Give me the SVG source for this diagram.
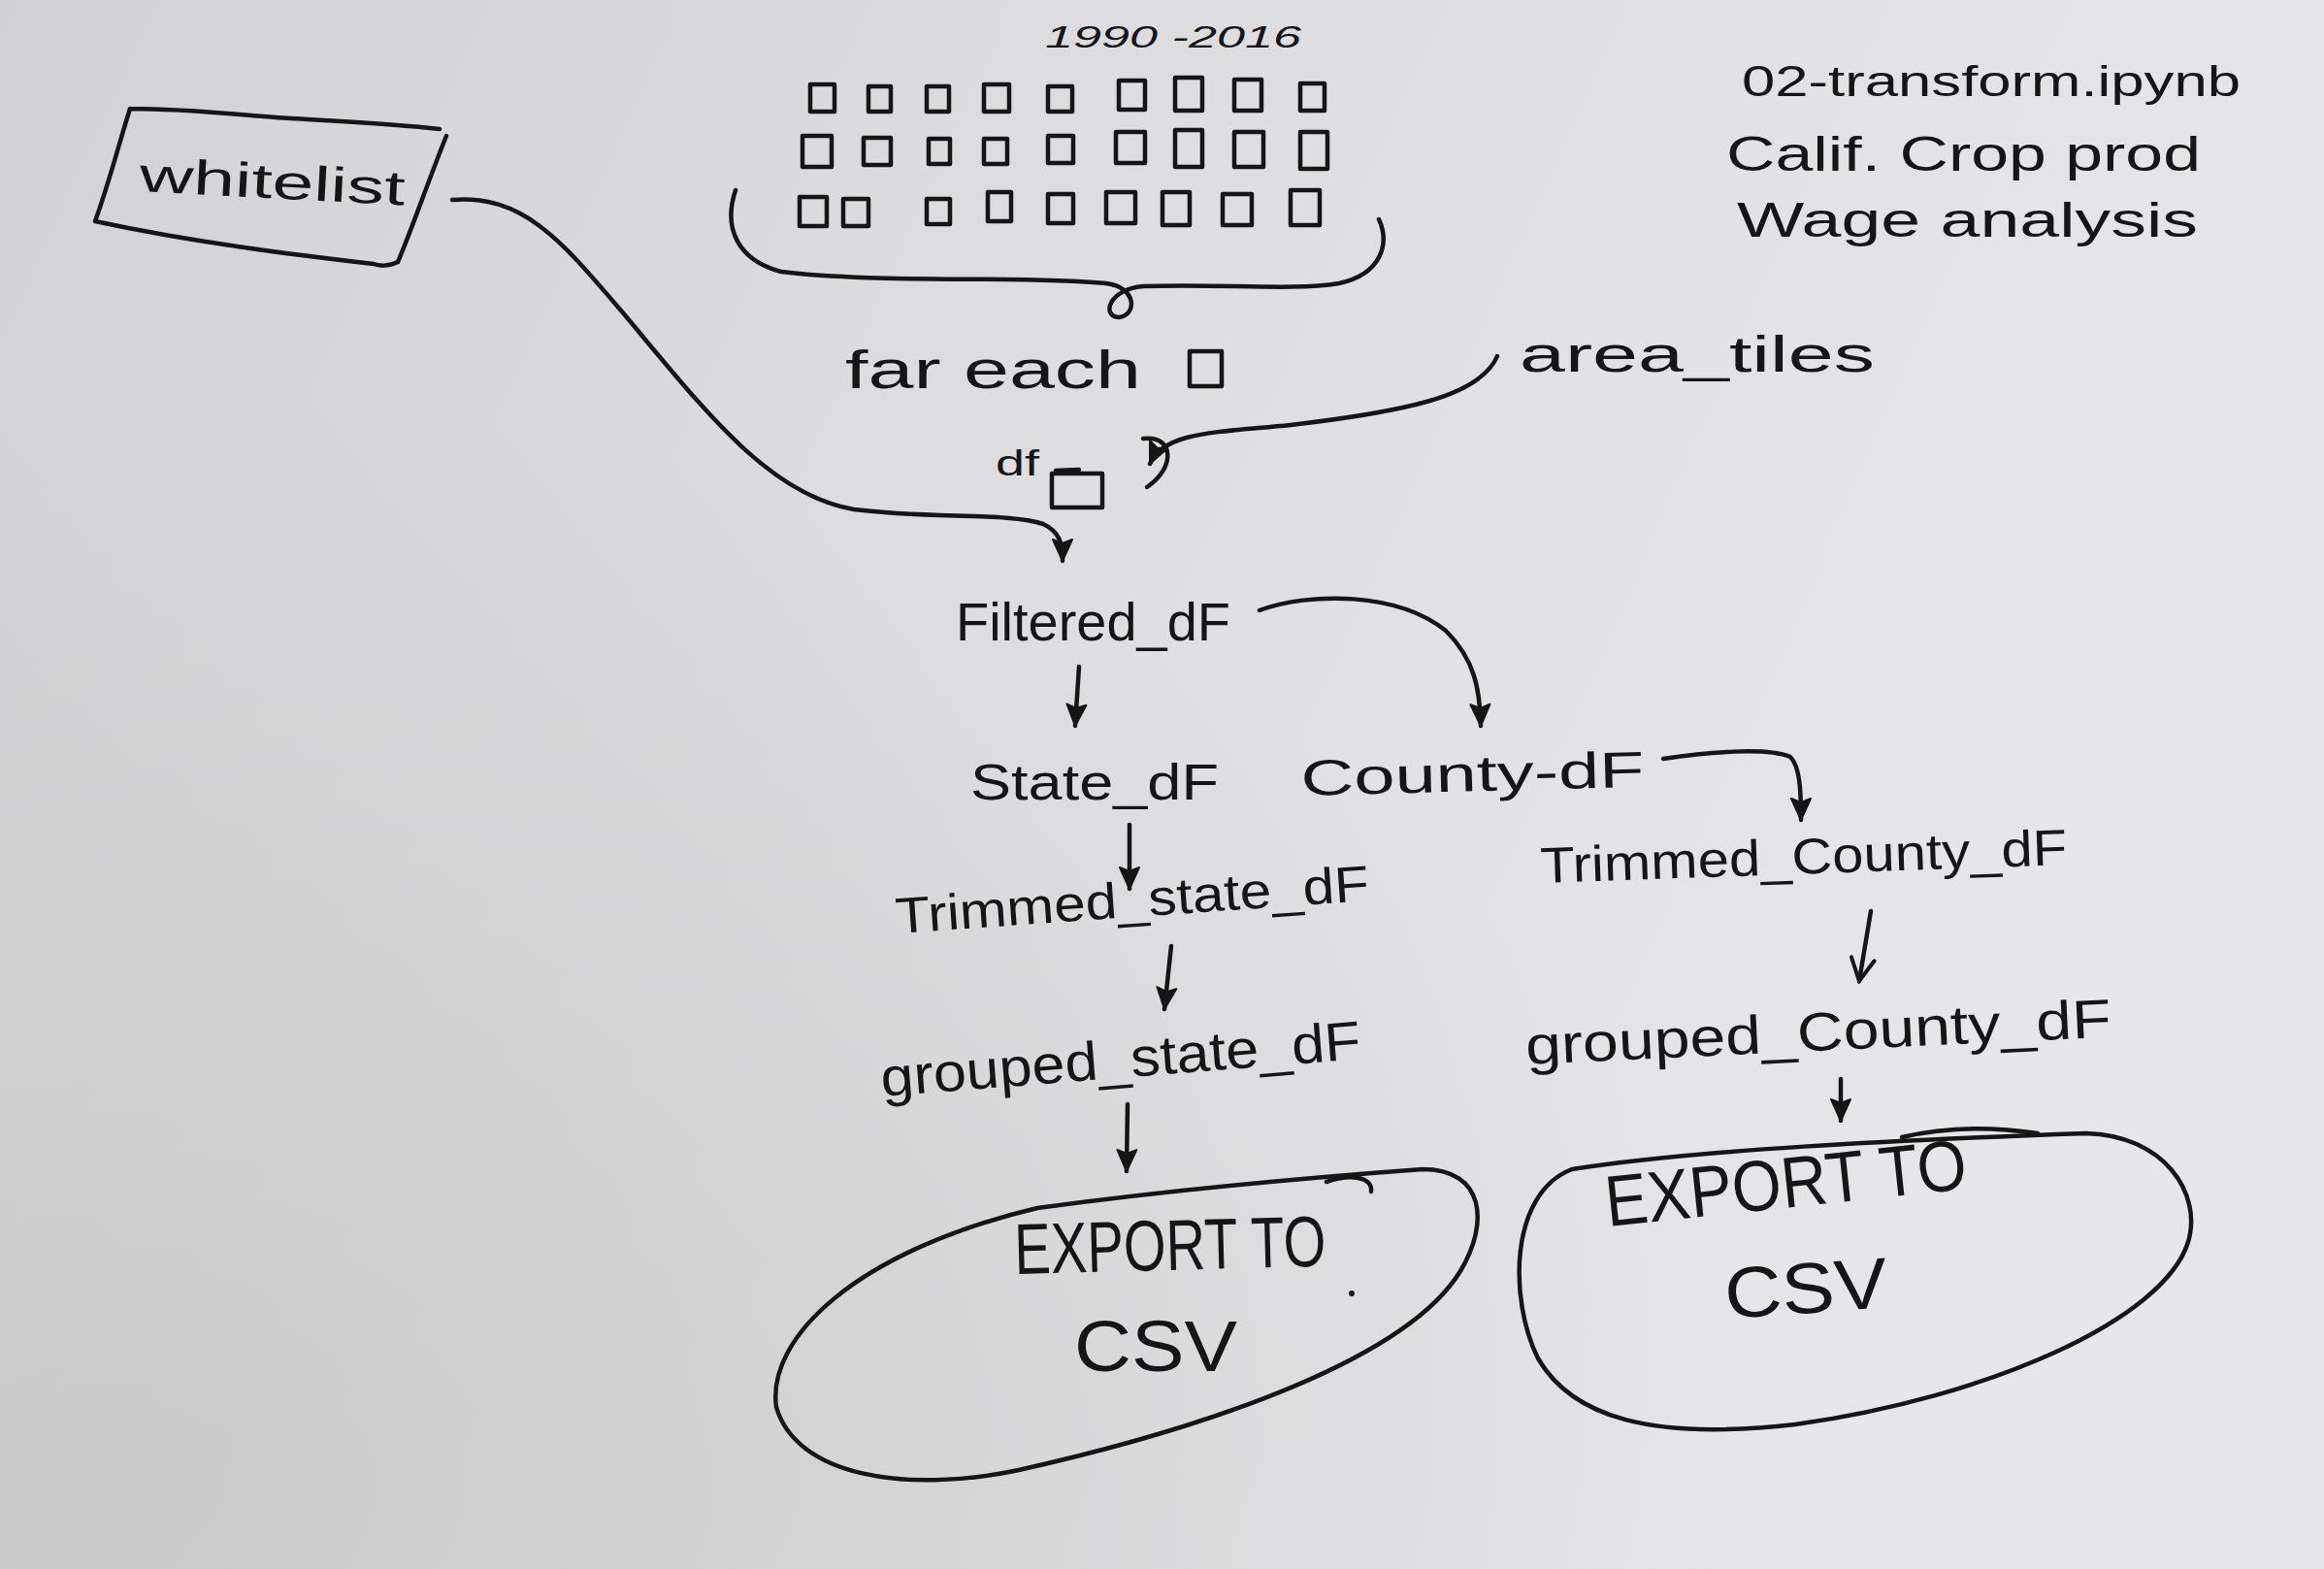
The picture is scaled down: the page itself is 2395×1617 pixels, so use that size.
<svg xmlns="http://www.w3.org/2000/svg" width="2395" height="1617" viewBox="0 0 2395 1617">
  <defs>
    <linearGradient id="paper" x1="0" y1="0" x2="1" y2="0.3">
      <stop offset="0" stop-color="#d2d2d4"/>
      <stop offset="0.5" stop-color="#dedee0"/>
      <stop offset="1" stop-color="#e7e7e9"/>
    </linearGradient>
    <radialGradient id="shade" cx="0.05" cy="0.95" r="0.7">
      <stop offset="0" stop-color="#c6c6c6" stop-opacity="0.8"/>
      <stop offset="1" stop-color="#c6c6c6" stop-opacity="0"/>
    </radialGradient>
    <marker id="arrow" markerUnits="userSpaceOnUse" markerWidth="28" markerHeight="28" viewBox="0 0 28 28" refX="26" refY="14" orient="auto">
      <path d="M4,4 L26,14 L4,24 L8,14 Z" fill="#151515" stroke="#151515" stroke-width="2" stroke-linejoin="round"/>
    </marker>
    <marker id="open" markerUnits="userSpaceOnUse" markerWidth="30" markerHeight="30" viewBox="0 0 30 30" refX="27" refY="15" orient="auto">
      <path d="M4,3 L27,15 L4,27" fill="none" stroke="#151515" stroke-width="4" stroke-linecap="round"/>
    </marker>
  </defs>
  <style>
    .ink { fill: none; stroke: #151515; stroke-width: 4.5; stroke-linecap: round; stroke-linejoin: round; }
    .sq { fill: none; stroke: #151515; stroke-width: 4.5; stroke-linejoin: round; }
    .t { font-family: "Liberation Sans", "DejaVu Sans", sans-serif; fill: #151515; }
    .lbl { font-size: 52px; }
    .big { font-size: 74px; }
    .note { font-size: 50px; }
  </style>

  <rect x="0" y="0" width="2395" height="1617" fill="url(#paper)"/>
  <rect x="0" y="0" width="2395" height="1617" fill="url(#shade)"/>

  <g id="years-label">
    <text class="t" x="1077" y="49" font-size="32" textLength="264" lengthAdjust="spacingAndGlyphs" font-style="italic">1990 -2016</text>
  </g>

  <g id="tiles">
    <g class="sq">
      <rect x="835" y="87" width="25" height="28"/>
      <rect x="895" y="89" width="23" height="26"/>
      <rect x="955" y="89" width="23" height="26"/>
      <rect x="1014" y="87" width="26" height="28"/>
      <rect x="1080" y="89" width="25" height="26"/>
      <rect x="1153" y="83" width="27" height="30"/>
      <rect x="1211" y="80" width="28" height="34"/>
      <rect x="1272" y="82" width="28" height="32"/>
      <rect x="1340" y="86" width="25" height="28"/>

      <rect x="827" y="140" width="30" height="32"/>
      <rect x="890" y="142" width="28" height="28"/>
      <rect x="957" y="143" width="22" height="26"/>
      <rect x="1014" y="143" width="24" height="26"/>
      <rect x="1080" y="140" width="26" height="28"/>
      <rect x="1150" y="136" width="30" height="32"/>
      <rect x="1211" y="134" width="28" height="38"/>
      <rect x="1272" y="136" width="30" height="36"/>
      <rect x="1340" y="136" width="28" height="38"/>

      <rect x="824" y="203" width="28" height="30"/>
      <rect x="869" y="205" width="26" height="28"/>
      <rect x="955" y="205" width="24" height="26"/>
      <rect x="1018" y="198" width="24" height="30"/>
      <rect x="1080" y="200" width="26" height="30"/>
      <rect x="1140" y="198" width="30" height="32"/>
      <rect x="1198" y="198" width="28" height="34"/>
      <rect x="1260" y="200" width="30" height="32"/>
      <rect x="1330" y="196" width="30" height="36"/>
    </g>
    <path class="ink" d="M 758,196 C 745,235 760,268 805,280 C 900,292 1050,284 1140,292 C 1172,296 1172,325 1153,327 C 1135,326 1142,298 1178,295 C 1260,292 1330,300 1380,292 C 1425,282 1432,250 1421,226"/>
  </g>

  <g id="whitelist">
    <path class="ink" d="M 134,112 C 200,112 260,120 300,122 C 350,125 410,128 453,133 M 460,140 C 440,190 425,235 410,270 C 400,275 390,274 385,272 C 300,262 200,250 98,228 M 98,228 C 112,190 122,150 134,112"/>
    <text class="t" x="143" y="197" font-size="50" textLength="274" lengthAdjust="spacingAndGlyphs" transform="rotate(3 143 197)">whitelist</text>
  </g>

  <g id="for-each">
    <text class="t" x="871" y="400" font-size="56" textLength="305" lengthAdjust="spacingAndGlyphs">far each</text>
    <rect class="sq" x="1226" y="362" width="33" height="36"/>
  </g>

  <g id="area-tiles">
    <text class="t lbl" x="1566" y="383" textLength="366" lengthAdjust="spacingAndGlyphs">area_tiles</text>
  </g>

  <g id="df">
    <text class="t" x="1026" y="490" font-size="36" textLength="45" lengthAdjust="spacingAndGlyphs">df</text>
    <path class="ink" d="M 1088,485 L 1112,484"/>
    <rect class="sq" x="1084" y="488" width="52" height="35"/>
  </g>

  <g id="notes">
    <text class="t" x="1795" y="99" font-size="44" textLength="514" lengthAdjust="spacingAndGlyphs">02-transform.ipynb</text>
    <text class="t note" x="1779" y="176" textLength="489" lengthAdjust="spacingAndGlyphs">Calif. Crop prod</text>
    <text class="t note" x="1790" y="244" textLength="475" lengthAdjust="spacingAndGlyphs">Wage analysis</text>
  </g>

  <g id="filtered-df">
    <text class="t" x="985" y="660" font-size="56" textLength="283" lengthAdjust="spacingAndGlyphs">Filtered_dF</text>
  </g>
  <g id="state-df">
    <text class="t lbl" x="1000" y="824" textLength="256" lengthAdjust="spacingAndGlyphs">State_dF</text>
  </g>
  <g id="county-df">
    <text class="t lbl" x="1341" y="820" textLength="354" lengthAdjust="spacingAndGlyphs" transform="rotate(-1.5 1341 820)">County-dF</text>
  </g>
  <g id="trimmed-state-df">
    <text class="t lbl" x="924" y="962" textLength="489" lengthAdjust="spacingAndGlyphs" transform="rotate(-4 924 962)">Trimmed_state_dF</text>
  </g>
  <g id="trimmed-county-df">
    <text class="t lbl" x="1588" y="910" textLength="543" lengthAdjust="spacingAndGlyphs" transform="rotate(-2 1588 910)">Trimmed_County_dF</text>
  </g>
  <g id="grouped-state-df">
    <text class="t" x="909" y="1130" font-size="56" textLength="496" lengthAdjust="spacingAndGlyphs" transform="rotate(-4.5 909 1130)">grouped_state_dF</text>
  </g>
  <g id="grouped-county-df">
    <text class="t" x="1573" y="1097" font-size="56" textLength="604" lengthAdjust="spacingAndGlyphs" transform="rotate(-2.7 1573 1097)">grouped_County_dF</text>
  </g>

  <g id="export-state">
    <path class="ink" d="M 1069,1245 C 1180,1230 1330,1215 1466,1205 C 1530,1205 1535,1260 1505,1310 C 1450,1400 1250,1470 1050,1515 C 930,1540 820,1520 800,1450 C 790,1380 880,1290 1069,1245 Z"/>
    <path class="ink" d="M 1367,1218 C 1390,1210 1415,1212 1413,1228"/>
    <circle cx="1393" cy="1333" r="3" fill="#151515"/>
    <text class="t big" x="1046" y="1313" textLength="321" lengthAdjust="spacingAndGlyphs" transform="rotate(-1.5 1046 1313)">EXPORT TO</text>
    <text class="t big" x="1107" y="1413" textLength="168" lengthAdjust="spacingAndGlyphs">CSV</text>
  </g>

  <g id="export-county">
    <path class="ink" d="M 1620,1205 C 1750,1185 1950,1175 2150,1168 C 2230,1170 2270,1230 2255,1280 C 2230,1360 2050,1440 1850,1468 C 1700,1485 1620,1460 1585,1400 C 1555,1340 1555,1230 1620,1205 Z"/>
    <path class="ink" d="M 1960,1172 C 2010,1160 2060,1162 2100,1168" stroke-width="3"/>
    <text class="t big" x="1657" y="1264" textLength="374" lengthAdjust="spacingAndGlyphs" transform="rotate(-6 1657 1264)">EXPORT TO</text>
    <text class="t big" x="1779" y="1359" textLength="168" lengthAdjust="spacingAndGlyphs" transform="rotate(-4 1779 1359)">CSV</text>
  </g>

  <g id="connectors">
    <path class="ink" d="M 466,206 C 540,200 580,250 640,320 C 720,415 790,510 880,525 C 960,535 1040,528 1075,540 C 1092,548 1095,560 1095,578" marker-end="url(#arrow)"/>
    <path class="ink" d="M 1543,367 C 1525,410 1440,425 1330,438 C 1250,446 1200,445 1185,478" marker-end="url(#arrow)"/>
    <path class="ink" d="M 1178,452 C 1210,448 1212,482 1182,502"/>
    <path class="ink" d="M 1112,687 L 1108,748" marker-end="url(#arrow)"/>
    <path class="ink" d="M 1298,629 C 1350,610 1440,610 1490,650 C 1520,680 1525,710 1526,748" marker-end="url(#arrow)"/>
    <path class="ink" d="M 1714,782 C 1760,775 1820,770 1845,780 C 1855,790 1856,815 1856,845" marker-end="url(#arrow)"/>
    <path class="ink" d="M 1164,850 L 1164,916" marker-end="url(#arrow)"/>
    <path class="ink" d="M 1207,975 L 1200,1040" marker-end="url(#arrow)"/>
    <path class="ink" d="M 1928,939 L 1916,1011" marker-end="url(#open)"/>
    <path class="ink" d="M 1162,1138 L 1161,1207" marker-end="url(#arrow)"/>
    <path class="ink" d="M 1897,1112 L 1897,1155" marker-end="url(#arrow)"/>
  </g>
</svg>
